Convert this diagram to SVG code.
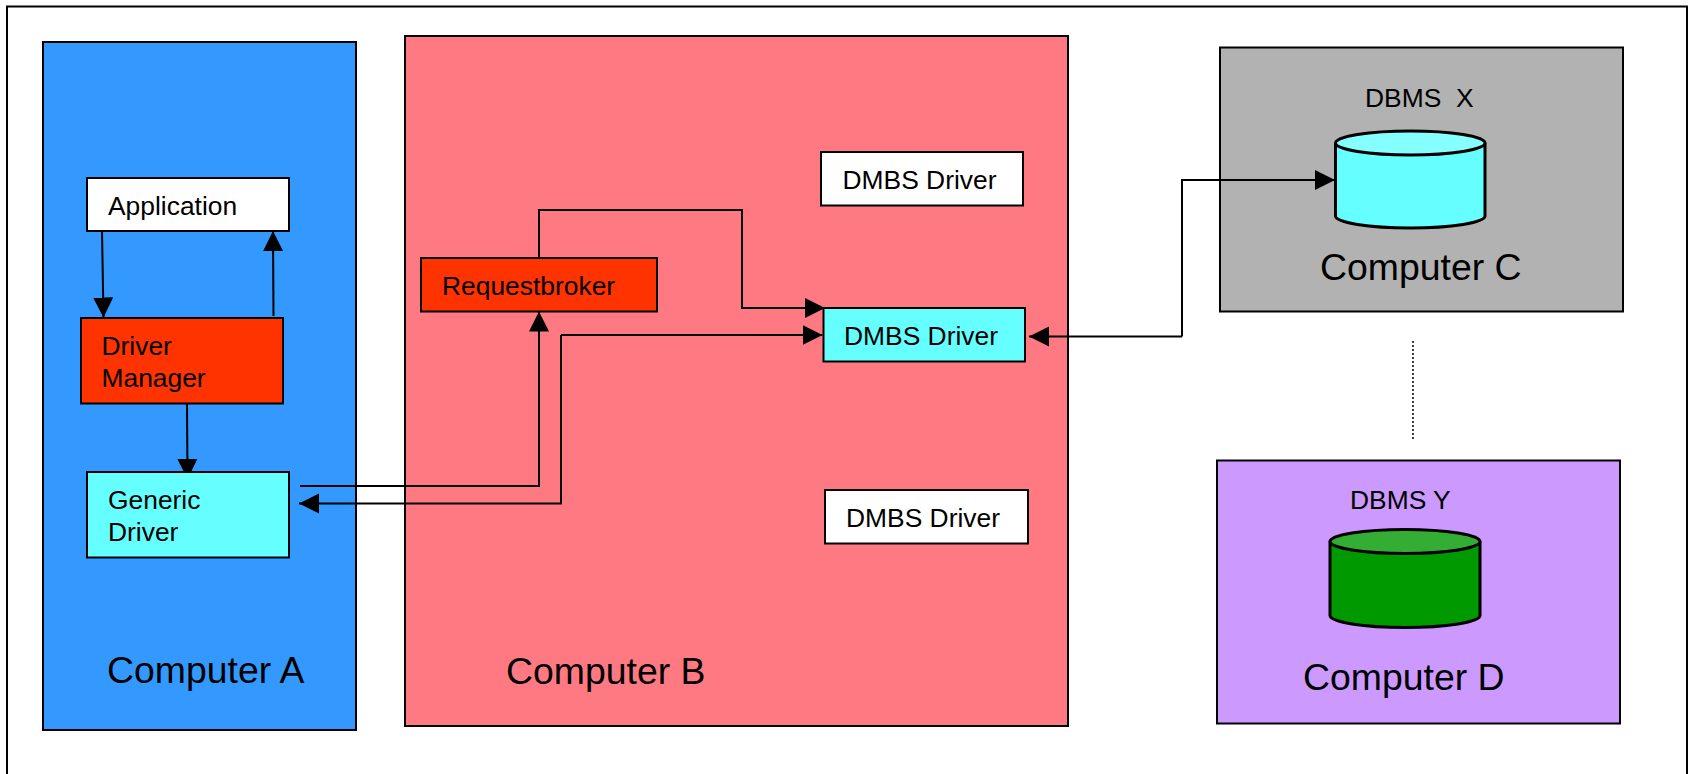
<svg xmlns="http://www.w3.org/2000/svg" width="1689" height="774" viewBox="0 0 1689 774">
<defs>
<marker id="ah" markerUnits="userSpaceOnUse" markerWidth="20" markerHeight="22" refX="20" refY="10" orient="auto"><path d="M0 0L20 10L0 20Z" fill="#000"/></marker>
</defs>
<style>
rect{stroke:#000;stroke-width:2}
.cyl{stroke:#000;stroke-width:3}
.l{fill:none;stroke:#000;stroke-width:2}
.a{marker-end:url(#ah)}
text{font-family:"Liberation Sans",Arial,sans-serif;fill:#000;white-space:pre}
.s{font-size:26.4px}
.b{font-size:37.4px}
</style>
<rect x="7" y="6.500" width="1680" height="790" fill="#fff"/>
<g id="computer-a"><rect x="43" y="42" width="313" height="688" fill="#3399ff"/><text class="b" x="107" y="683">Computer A</text></g>
<g id="computer-b"><rect x="405" y="36" width="663" height="690" fill="#ff7983"/><text class="b" x="506" y="684">Computer B</text></g>
<g id="computer-c"><rect x="1220" y="47.500" width="403" height="264" fill="#b2b2b2"/><text class="s" x="1365" y="107">DBMS  X</text><text class="b" x="1320" y="280">Computer C</text></g>
<g id="computer-d"><rect x="1217" y="460.500" width="403" height="263" fill="#cc99ff"/><text class="s" x="1350" y="509">DBMS Y</text><text class="b" x="1303" y="690">Computer D</text></g>
<g id="connectors">
<path class="l a" d="M102 231L103.500 317.500"/>
<path class="l a" d="M273.500 316L273 231"/>
<path class="l a" d="M187 403L187.500 479"/>
<path class="l a" d="M300 486H539V311.500"/>
<path class="l a" d="M561 335H822.500"/>
<path class="l a" d="M561 335V503.500H299"/>
<path class="l a" d="M539 258V210H742V308H825"/>
<path class="l a" d="M1182 336.500H1029"/>
<path class="l a" d="M1182 336.500V180H1335"/>
<path d="M1413 341V439" fill="none" stroke="#000" stroke-width="1.500" stroke-dasharray="2 2"/>
</g>
<g id="cylinder-c"><path class="cyl" fill="#66ffff" d="M1335.500 143V216A74.750 12 0 0 0 1485 216V143"/><ellipse class="cyl" cx="1410.250" cy="143" rx="74.750" ry="12" fill="#85ffff"/></g>
<g id="cylinder-d"><path class="cyl" fill="#009900" d="M1330 541.500V615.500A75 12 0 0 0 1480 615.500V541.500"/><ellipse class="cyl" cx="1405" cy="541.500" rx="75" ry="12" fill="#33ad33"/></g>
<g id="application"><rect x="87" y="178" width="202" height="53" fill="#fff"/><text class="s" x="108" y="215">Application</text></g>
<g id="driver-manager"><rect x="81" y="318" width="202" height="85.500" fill="#ff3300"/><text class="s" x="101.500" y="355">Driver</text><text class="s" x="101.500" y="387">Manager</text></g>
<g id="generic-driver"><rect x="87" y="472" width="202" height="85.500" fill="#66ffff"/><text class="s" x="108" y="509">Generic</text><text class="s" x="108" y="541">Driver</text></g>
<g id="requestbroker"><rect x="421" y="258" width="236" height="53.500" fill="#ff3300"/><text class="s" x="442" y="295">Requestbroker</text></g>
<g id="dmbs-driver-1"><rect x="821" y="152" width="202" height="53.500" fill="#fff"/><text class="s" x="842.500" y="189">DMBS Driver</text></g>
<g id="dmbs-driver-2"><rect x="823.500" y="308" width="201.500" height="53.500" fill="#66ffff"/><text class="s" x="844" y="345">DMBS Driver</text></g>
<g id="dmbs-driver-3"><rect x="825" y="490" width="203" height="53.500" fill="#fff"/><text class="s" x="846" y="527">DMBS Driver</text></g>
</svg>
